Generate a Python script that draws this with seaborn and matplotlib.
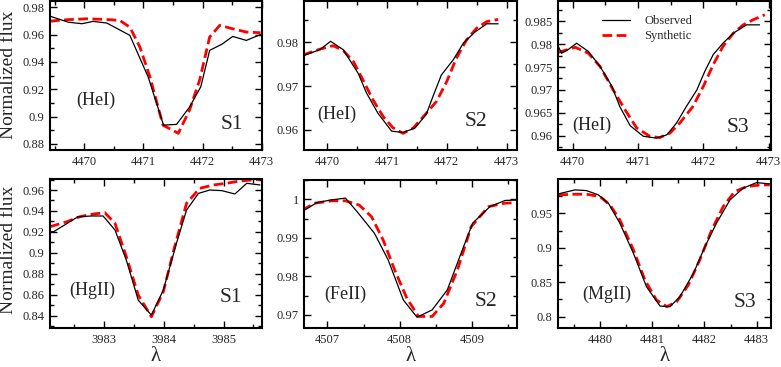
import matplotlib
matplotlib.use('Agg')
import matplotlib.pyplot as plt
import seaborn as sns
from matplotlib.ticker import MultipleLocator, FormatStrFormatter

# Observed / synthetic line profiles

# S1, HeI
s1_hei_obs_x = [4469.42, 4469.73, 4469.96, 4470.15, 4470.38, 4470.77, 4471.08, 4471.34, 4471.56, 4471.78, 4471.97, 4472.12, 4472.33, 4472.51, 4472.74, 4472.98]
s1_hei_obs_y = [0.9734, 0.9690, 0.9679, 0.9696, 0.9684, 0.9594, 0.9290, 0.8938, 0.8943, 0.9070, 0.9218, 0.9484, 0.9530, 0.9586, 0.9557, 0.9600]
s1_hei_syn_x = [4469.42, 4469.70, 4470.04, 4470.38, 4470.60, 4470.77, 4470.94, 4471.11, 4471.33, 4471.59, 4471.78, 4471.95, 4472.12, 4472.29, 4472.51, 4472.74, 4472.98]
s1_hei_syn_y = [0.9698, 0.9708, 0.9715, 0.9710, 0.9703, 0.9654, 0.9509, 0.9290, 0.8938, 0.8878, 0.9048, 0.9266, 0.9582, 0.9667, 0.9642, 0.9618, 0.9613]

# S2, HeI
s2_hei_obs_x = [4469.60, 4469.88, 4470.06, 4470.27, 4470.52, 4470.66, 4470.85, 4471.08, 4471.27, 4471.47, 4471.66, 4471.77, 4471.91, 4472.11, 4472.28, 4472.47, 4472.67, 4472.86]
s2_hei_obs_y = [0.9769, 0.9783, 0.9802, 0.9783, 0.9729, 0.9684, 0.9638, 0.9597, 0.9594, 0.9604, 0.9636, 0.9676, 0.9725, 0.9760, 0.9798, 0.9823, 0.9842, 0.9842]
s2_hei_syn_x = [4469.60, 4469.88, 4470.10, 4470.27, 4470.44, 4470.60, 4470.77, 4470.94, 4471.10, 4471.27, 4471.44, 4471.66, 4471.83, 4472.00, 4472.16, 4472.33, 4472.50, 4472.67, 4472.86]
s2_hei_syn_y = [0.9771, 0.9784, 0.9792, 0.9781, 0.9756, 0.9714, 0.9668, 0.9630, 0.9605, 0.9592, 0.9604, 0.9638, 0.9665, 0.9710, 0.9763, 0.9805, 0.9832, 0.9847, 0.9852]

# S3, HeI
s3_hei_obs_x = [4469.78, 4469.83, 4469.93, 4470.06, 4470.24, 4470.42, 4470.60, 4470.72, 4470.88, 4471.08, 4471.28, 4471.44, 4471.59, 4471.74, 4471.90, 4472.02, 4472.15, 4472.30, 4472.46, 4472.66, 4472.86]
s3_hei_obs_y = [0.9795, 0.9780, 0.9788, 0.9802, 0.9784, 0.9751, 0.9708, 0.9664, 0.9622, 0.9599, 0.9595, 0.9602, 0.9628, 0.9664, 0.9700, 0.9740, 0.9777, 0.9802, 0.9824, 0.9842, 0.9842]
s3_hei_syn_x = [4469.78, 4470.04, 4470.24, 4470.42, 4470.62, 4470.80, 4470.98, 4471.18, 4471.33, 4471.49, 4471.64, 4471.84, 4472.00, 4472.15, 4472.30, 4472.46, 4472.61, 4472.76, 4472.94]
s3_hei_syn_y = [0.9782, 0.9793, 0.9780, 0.9751, 0.9700, 0.9657, 0.9617, 0.9599, 0.9596, 0.9606, 0.9628, 0.9664, 0.9708, 0.9755, 0.9795, 0.9824, 0.9842, 0.9853, 0.9864]

# S1, HgII
s1_hg_obs_x = [3982.09, 3982.15, 3982.56, 3982.79, 3982.98, 3983.18, 3983.37, 3983.57, 3983.79, 3983.99, 3984.21, 3984.38, 3984.58, 3984.77, 3984.97, 3985.19, 3985.39, 3985.61]
s1_hg_obs_y = [0.9202, 0.9202, 0.9345, 0.9352, 0.9352, 0.9218, 0.8931, 0.8549, 0.8406, 0.8645, 0.9090, 0.9409, 0.9568, 0.9600, 0.9594, 0.9562, 0.9664, 0.9648]
s1_hg_syn_x = [3982.09, 3982.37, 3982.59, 3982.82, 3983.01, 3983.18, 3983.37, 3983.57, 3983.79, 3983.99, 3984.18, 3984.38, 3984.60, 3984.83, 3985.05, 3985.27, 3985.61]
s1_hg_syn_y = [0.9250, 0.9297, 0.9345, 0.9371, 0.9383, 0.9282, 0.8963, 0.8597, 0.8390, 0.8629, 0.9059, 0.9473, 0.9616, 0.9648, 0.9664, 0.9686, 0.9702]

# S2, FeII
s2_fe_obs_x = [4506.65, 4506.85, 4507.04, 4507.25, 4507.41, 4507.65, 4507.84, 4508.05, 4508.24, 4508.45, 4508.66, 4508.85, 4509.01, 4509.25, 4509.46, 4509.64]
s2_fe_obs_y = [0.9968, 0.9991, 0.9998, 1.0003, 0.9968, 0.9912, 0.9843, 0.9739, 0.9694, 0.9713, 0.9765, 0.9860, 0.9938, 0.9981, 0.9997, 0.9998]
s2_fe_syn_x = [4506.65, 4506.83, 4507.06, 4507.25, 4507.44, 4507.61, 4507.77, 4507.93, 4508.10, 4508.26, 4508.45, 4508.61, 4508.80, 4508.99, 4509.23, 4509.46, 4509.64]
s2_fe_syn_y = [0.9972, 0.9990, 0.9996, 0.9996, 0.9985, 0.9955, 0.9895, 0.9817, 0.9743, 0.9696, 0.9696, 0.9730, 0.9817, 0.9929, 0.9981, 0.9990, 0.9991]

# S3, MgII
s3_mg_obs_x = [4479.20, 4479.52, 4479.74, 4479.97, 4480.16, 4480.38, 4480.64, 4480.89, 4481.15, 4481.34, 4481.53, 4481.79, 4482.01, 4482.23, 4482.49, 4482.74, 4483.00, 4483.25]
s3_mg_obs_y = [0.9781, 0.9839, 0.9829, 0.9766, 0.9645, 0.9355, 0.8919, 0.8435, 0.8154, 0.8145, 0.8290, 0.8629, 0.9016, 0.9355, 0.9694, 0.9863, 0.9945, 0.9926]
s3_mg_syn_x = [4479.20, 4479.49, 4479.74, 4480.00, 4480.19, 4480.38, 4480.64, 4480.86, 4481.08, 4481.28, 4481.47, 4481.69, 4481.91, 4482.14, 4482.36, 4482.58, 4482.81, 4483.06, 4483.25]
s3_mg_syn_y = [0.9766, 0.9776, 0.9776, 0.9742, 0.9621, 0.9403, 0.8968, 0.8532, 0.8242, 0.8145, 0.8218, 0.8459, 0.8822, 0.9258, 0.9597, 0.9815, 0.9887, 0.9911, 0.9911]

ion_labels = ['(HeI)', '(HeI)', '(HeI)', '(HgII)', '(FeII)', '(MgII)']
star_labels = ['S1', 'S2', 'S3', 'S1', 'S2', 'S3']

sns.set_style('ticks')
plt.rcParams['font.family'] = ['Liberation Serif', 'DejaVu Serif']

fig = plt.figure(figsize=(7.81, 3.67), dpi=100)
W, H = 781, 367

# panel boxes in pixels: left, right, top, bottom
boxes = [(50, 261.7, 1, 150), (304.3, 516.7, 1, 150), (558.3, 770.7, 1, 150),
         (50, 261.7, 179, 328), (304.3, 516.7, 180, 328), (558.3, 770.7, 179, 328)]
xlims = [(4469.42, 4473.0), (4469.62, 4473.17), (4469.78, 4473.03),
         (3982.09, 3985.64), (4506.68, 4509.62), (4479.2, 4483.27)]
ylims = [(0.8756, 0.9845), (0.9554, 0.9894), (0.9569, 0.9894),
         (0.8283, 0.9705), (0.9666, 1.005), (0.7836, 0.9997)]
ymajor = [0.02, 0.01, 0.005, 0.02, 0.01, 0.05]
yminor = [0.01, 0.005, 0.0025, 0.01, 0.005, 0.025]
label_pos = [(0.217, 0.336), (0.152, 0.242), (0.156, 0.168),
             (0.198, 0.255), (0.192, 0.23), (0.229, 0.228)]
star_pos = [(0.857, 0.174), (0.808, 0.188), (0.844, 0.154),
            (0.855, 0.208), (0.855, 0.182), (0.879, 0.168)]

series = [(s1_hei_obs_x, s1_hei_obs_y, s1_hei_syn_x, s1_hei_syn_y),
          (s2_hei_obs_x, s2_hei_obs_y, s2_hei_syn_x, s2_hei_syn_y),
          (s3_hei_obs_x, s3_hei_obs_y, s3_hei_syn_x, s3_hei_syn_y),
          (s1_hg_obs_x, s1_hg_obs_y, s1_hg_syn_x, s1_hg_syn_y),
          (s2_fe_obs_x, s2_fe_obs_y, s2_fe_syn_x, s2_fe_syn_y),
          (s3_mg_obs_x, s3_mg_obs_y, s3_mg_syn_x, s3_mg_syn_y)]

for i, (ox, oy, sx, sy) in enumerate(series):
    l, r, t, b = boxes[i]
    ax = fig.add_axes([l / W, (H - b) / H, (r - l) / W, (b - t) / H])
    sns.lineplot(x=sx, y=sy, ax=ax, color='#ff0000', lw=2.0,
                 linestyle=(0, (3.5, 1.6)), label='Synthetic', legend=False, sort=False)
    sns.lineplot(x=ox, y=oy, ax=ax, color='black', lw=0.9,
                 label='Observed', legend=False, sort=False)
    ax.set_xlim(*xlims[i])
    ax.set_ylim(*ylims[i])
    ax.xaxis.set_major_locator(MultipleLocator(1))
    ax.xaxis.set_minor_locator(MultipleLocator(0.5))
    ax.yaxis.set_major_locator(MultipleLocator(ymajor[i]))
    ax.yaxis.set_minor_locator(MultipleLocator(yminor[i]))
    ax.xaxis.set_major_formatter(FormatStrFormatter('%g'))
    ax.yaxis.set_major_formatter(FormatStrFormatter('%g'))
    ax.tick_params(which='both', direction='in', top=True, right=True,
                   labelsize=9, width=1.0, color='black', pad=4)
    ax.tick_params(which='major', length=5)
    ax.tick_params(which='minor', length=3)
    for sp in ax.spines.values():
        sp.set_linewidth(1.5)
        sp.set_color('black')
    ax.text(*label_pos[i], ion_labels[i], transform=ax.transAxes,
            ha='center', va='center', fontsize=13)
    ax.text(*star_pos[i], star_labels[i], transform=ax.transAxes,
            ha='center', va='center', fontsize=15.5)
    if i >= 3:
        ax.set_xlabel('λ', fontsize=15, labelpad=1)
    if i == 2:
        h, lab = ax.get_legend_handles_labels()
        ax.legend(h[::-1], lab[::-1], loc='upper left', bbox_to_anchor=(0.206, 0.905),
                  frameon=False, fontsize=9, borderpad=0, borderaxespad=0,
                  handlelength=2.2, handletextpad=1.2, labelspacing=0.25)

fig.text(9 / W, (H - 74.5) / H, 'Normalized flux', rotation=90,
         ha='center', va='center', fontsize=14)
fig.text(9 / W, (H - 250) / H, 'Normalized flux', rotation=90,
         ha='center', va='center', fontsize=14)

fig.savefig('out.png', dpi=100)
